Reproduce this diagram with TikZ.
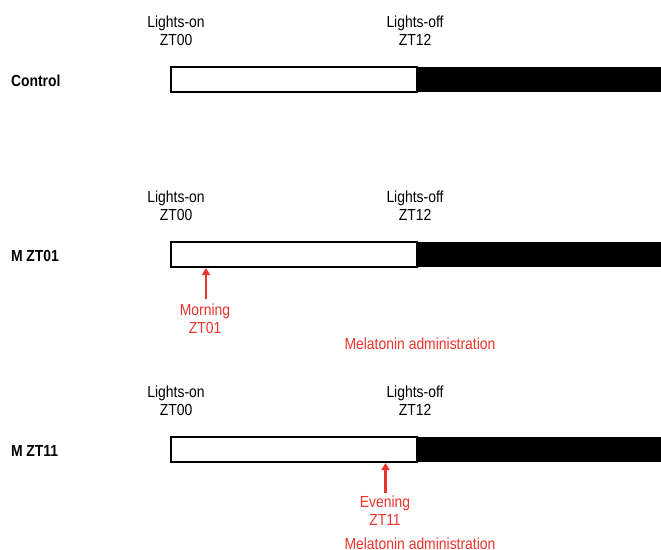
\documentclass[tikz,border=0pt]{standalone}
\usepackage{fontspec}
\setmainfont{Liberation Sans}[FakeStretch=0.87]
\usetikzlibrary{arrows.meta}
\definecolor{accent}{RGB}{232,52,44}
\begin{document}
\begin{tikzpicture}[x=1pt,y=-1pt,
  every node/.style={font=\fontsize{16}{18}\selectfont, inner sep=0pt, outer sep=0pt},
  lbl/.style={align=center, anchor=north},
  rowlbl/.style={anchor=base west, font=\fontsize{16}{18}\selectfont\bfseries},
  daybar/.style={draw=black, line width=1.3pt, fill=white, minimum width=246pt, minimum height=25pt, anchor=north west},
  nightbar/.style={fill=black, minimum width=260pt, minimum height=25pt, anchor=north west},
  redlbl/.style={text=accent, align=center, anchor=north},
  marker/.style={draw=accent, line width=2.5pt, -{Triangle[length=7pt,width=8pt]}}]
\useasboundingbox (0,0) rectangle (661,549);

% ---- Control ----
\node[rowlbl] (rowA) at (11,86.5) {Control};
\node[lbl] (onA) at (176,16) {Lights-on\\ZT00};
\node[lbl] (offA) at (415,16) {Lights-off\\ZT12};
\node[nightbar] (nightA) at (417,67) {};
\node[daybar] (dayA) at (171,67) {};

% ---- M ZT01 ----
\node[rowlbl] (rowB) at (11,261.5) {M ZT01};
\node[lbl] (onB) at (176,191) {Lights-on\\ZT00};
\node[lbl] (offB) at (415,191) {Lights-off\\ZT12};
\node[nightbar] (nightB) at (417,242) {};
\node[daybar] (dayB) at (171,242) {};
\node[redlbl] (morning) at (205,303.5) {Morning\\ZT01};
\coordinate (tipB) at (206,268);
\draw[marker, shorten <=5pt] (morning.north -| tipB) -- (tipB);
\node[redlbl] (melB) at (420,337.5) {Melatonin administration};

% ---- M ZT11 ----
\node[rowlbl] (rowC) at (11,456.5) {M ZT11};
\node[lbl] (onC) at (176,386) {Lights-on\\ZT00};
\node[lbl] (offC) at (415,386) {Lights-off\\ZT12};
\node[nightbar] (nightC) at (417,437) {};
\node[daybar] (dayC) at (171,437) {};
\node[redlbl] (evening) at (385,496) {Evening\\ZT11};
\coordinate (tipC) at (385.5,463);
\draw[marker, shorten <=3pt] (evening.north -| tipC) -- (tipC);
\node[redlbl] (melC) at (420,537.5) {Melatonin administration};
\end{tikzpicture}
\end{document}
